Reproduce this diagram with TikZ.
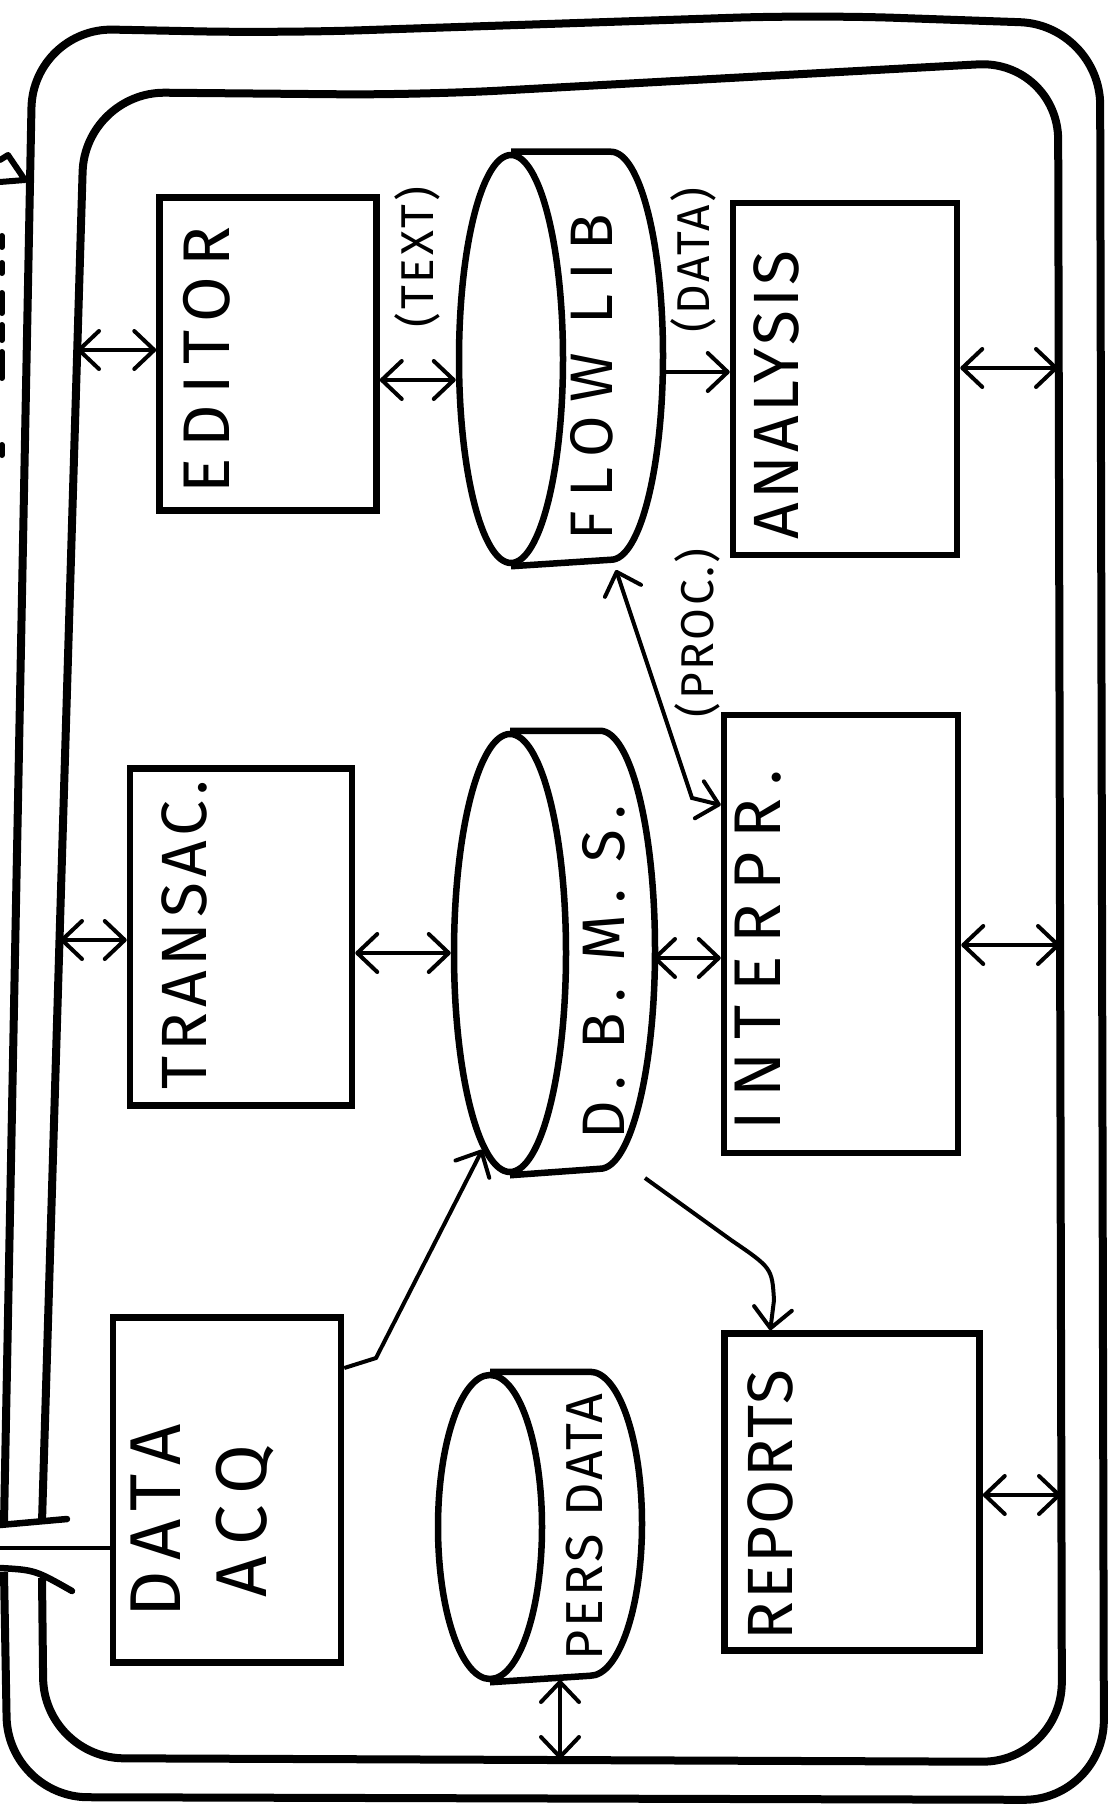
\documentclass[tikz,border=0pt]{standalone}
\usepackage{fontspec}
\setmainfont{Fira Sans}
\newfontfamily\hand{Fira Sans}[LetterSpace=6]
\usetikzlibrary{arrows.meta,calc,shapes.geometric}
\tikzset{
  busline/.style ={draw, line width=8pt, rounded corners=80pt, line join=round},
  busend/.style  ={draw, line width=6.5pt, line cap=round},
  modbox/.style  ={draw, rectangle, line width=6.5pt, inner sep=0pt},
  drum/.style    ={draw, ellipse, line width=6.5pt, inner sep=0pt},
  drumside/.style={draw, line width=6.5pt, line join=round},
  lbl/.style     ={rotate=90, font=\hand\fontsize{64}{92}\selectfont, align=center, inner sep=0pt},
  tag/.style     ={rotate=90, font=\hand\fontsize{46}{52}\selectfont, inner sep=0pt},
  dbl/.style     ={{Straight Barb[length=20pt,width=38pt,round]}-{Straight Barb[length=20pt,width=38pt,round]}, line width=4pt},
  one/.style     ={-{Straight Barb[length=20pt,width=38pt,round]}, line width=4pt},
  link/.style    ={draw, line width=4.5pt},
  frag/.style    ={line width=6pt, line cap=round, line join=round},
}
\begin{document}
\begin{tikzpicture}[x=1pt,y=-1pt]
\useasboundingbox (0,0) rectangle (1112,1811);

% double frame (bus) with the opening on the left
\draw[busline] (4,1523) -- (33,28) -- (280,33) -- (815,15) -- (1100,25) -- (1104,1800) -- (8,1797) -- (4,1572);
\draw[busline] (42,1522) -- (85,92) -- (420,95) -- (1058,60) -- (1062,1762) -- (44,1758) -- (42,1578);
\draw[busend] (0,1525) -- (67,1519);
\draw[busend] (0,1568) .. controls (35,1570) .. (72,1591);

% cut-off marks outside the frame
\draw[frag] (0,160) -- (8,155) -- (25,180) -- (0,182);
\foreach \ya/\yb in {236/247, 263/273, 293/313, 325/340, 352/378, 445/455}
  \draw[frag] (2,\ya) -- (2,\yb);

% modules
\node[modbox, minimum width=217pt, minimum height=313pt] (editor)   at (268,354)  {};
\node[modbox, minimum width=222pt, minimum height=337pt] (transac)  at (241,937)  {};
\node[modbox, minimum width=228pt, minimum height=345pt] (dataacq)  at (227,1490) {};
\node[modbox, minimum width=224pt, minimum height=352pt] (analysis) at (845,379)  {};
\node[modbox, minimum width=234pt, minimum height=438pt] (interpr)  at (841,934)  {};
\node[modbox, minimum width=255pt, minimum height=317pt] (reports)  at (852,1492) {};

% drums
\node[drum, minimum width=104pt, minimum height=408pt] (flowlib) at (511,359) {};
\draw[drumside] (flowlib.north) -- ++(100,0) arc[start angle=-90, end angle=90, x radius=52, y radius=204] -- (flowlib.south);
\node[drum, minimum width=112pt, minimum height=438pt] (dbms) at (510,953) {};
\draw[drumside] (dbms.north) -- ++(90,0) arc[start angle=-90, end angle=90, x radius=55, y radius=219] -- (dbms.south);
\node[drum, minimum width=104pt, minimum height=304pt] (persdata) at (490,1527) {};
\draw[drumside] (persdata.north) -- ++(100,0) arc[start angle=-90, end angle=90, x radius=52, y radius=152] -- (persdata.south);

% labels
\node[lbl, font=\hand\fontsize{66}{92}\selectfont\addfontfeatures{LetterSpace=16}] (editorlbl) at (207,360) {EDITOR};
\node[lbl, font=\hand\fontsize{64}{92}\selectfont\addfontfeatures{LetterSpace=8}] (transaclbl) at (184,935) {TRANSAC.};
\node[lbl, font=\hand\fontsize{72}{86}\selectfont\addfontfeatures{LetterSpace=16}] (dataacqlbl) at (202,1521) {DATA\\ACQ};
\node[lbl, font=\hand\fontsize{64}{92}\selectfont\addfontfeatures{LetterSpace=5}] (analysislbl) at (776,395) {ANALYSIS};
\node[lbl, font=\hand\fontsize{66}{92}\selectfont\addfontfeatures{LetterSpace=20}] (interprlbl) at (758,950) {INTERPR.};
\node[lbl, font=\hand\fontsize{64}{92}\selectfont\addfontfeatures{LetterSpace=3}] (reportslbl) at (770,1505) {REPORTS};
\node[lbl, font=\hand\fontsize{60}{92}\selectfont\addfontfeatures{LetterSpace=22}] (flowliblbl) at (592,377) {FLOW LIB};
\node[lbl, font=\hand\fontsize{60}{92}\selectfont\addfontfeatures{LetterSpace=18}] (dbmslbl) at (604,972) {D. B. M. S.};
\node[lbl, font=\hand\fontsize{52}{92}\selectfont\addfontfeatures{LetterSpace=6}] (persdatalbl) at (585,1527) {PERS DATA};
\node[tag] (texttag)     at (417,257)  {(TEXT)};
\node[tag] (datatag)     at (693,260)  {(DATA)};
\node[tag] (proctag)     at (697,633)  {(PROC.)};

% points on the bus and free ends
\coordinate (busL1) at (77,350);
\coordinate (busL2) at (60,940);
\coordinate (busR1) at (1058,368);
\coordinate (busR2) at (1060,945);
\coordinate (busR3) at (1061,1495);
\coordinate (busB)  at (560,1759);
\coordinate (ext)   at (0,1548);
\coordinate (flowlibend)  at (662,372);
\coordinate (flowlibfoot) at (616,570);
\coordinate (dbmsend)     at (653,958);
\coordinate (dbmsout)     at (645,1178);
\coordinate (persfoot)    at (560,1680);

% connectors
\draw[dbl] (busL1) -- (editor.west |- busL1);
\draw[dbl] (busL2) -- (transac.west |- busL2);
\draw[dbl] ($(editor.east)+(0,26)$) -- ($(flowlib.west)+(0,21)$);
\draw[one] (flowlibend) -- (flowlibend -| analysis.west);
\draw[dbl] (transac.east |- dbms.west) -- (dbms.west);
\draw[dbl] (dbmsend) -- (dbmsend -| interpr.west);
\draw[dbl] (flowlibfoot) -- (692,798) -- ($(interpr.west)+(0,-129)$);
\draw[one] ($(dataacq.east)+(0,-122)$) -- (376,1358) -- (dbms.262);
\draw[one] (dbmsout) -- (731,1240) .. controls (772,1268) .. (774,1300) -- ($(reports.north west)+(49,0)$);
\draw[dbl] (analysis.east |- busR1) -- (busR1);
\draw[dbl] (interpr.east |- busR2) -- (busR2);
\draw[dbl] (reports.east |- busR3) -- (busR3);
\draw[dbl] (persfoot) -- (busB);
\draw[link] (ext) -- (ext -| dataacq.west);
\end{tikzpicture}
\end{document}
